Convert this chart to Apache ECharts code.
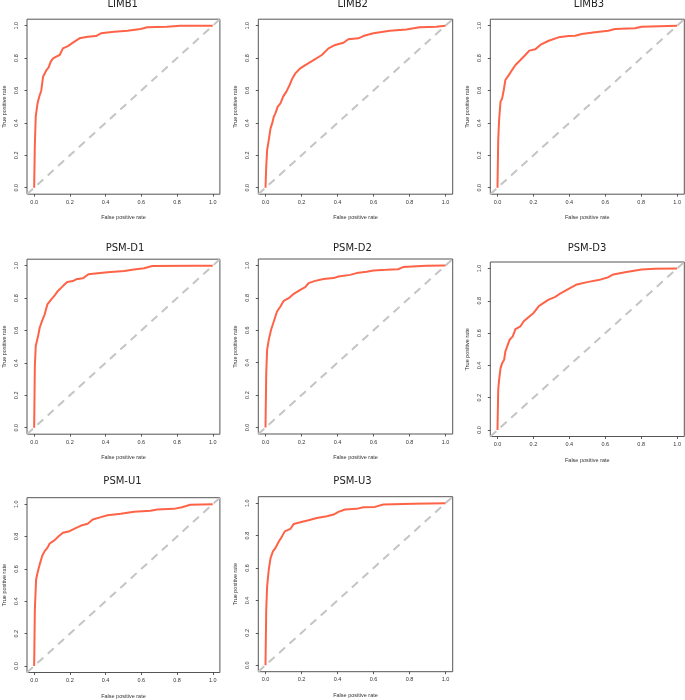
<!DOCTYPE html>
<html>
<head>
<meta charset="utf-8">
<style>html,body{margin:0;padding:0;background:#fff}#c{width:685px;height:700px}</style>
<script src="https://cdn.jsdelivr.net/npm/echarts@6/dist/echarts.min.js"></script>
</head>
<body>
<div id="c"></div>
<script>
// ---- data ----
const panelNames = ["LIMB1", "LIMB2", "LIMB3", "PSM-D1", "PSM-D2", "PSM-D3", "PSM-U1", "PSM-U3"];
const tickValues = [0, 0.2, 0.4, 0.6, 0.8, 1.0];
const tickLabels = ["0.0", "0.2", "0.4", "0.6", "0.8", "1.0"];
const xName = "False positive rate";
const yName = "True positive rate";
const diagonal = [[-0.04, -0.04], [1.04, 1.04]];

const limb1 = [[0,0],[0.004,0.27],[0.009,0.44],[0.019,0.52],[0.028,0.56],[0.04,0.60],[0.05,0.685],[0.069,0.726],[0.081,0.743],[0.093,0.778],[0.106,0.798],[0.124,0.809],[0.143,0.819],[0.161,0.86],[0.189,0.874],[0.217,0.895],[0.254,0.922],[0.3,0.932],[0.346,0.936],[0.374,0.953],[0.448,0.963],[0.522,0.969],[0.596,0.979],[0.633,0.99],[0.744,0.994],[0.819,1.0],[1,1]];
const limb2 = [[0,0],[0.004,0.13],[0.009,0.232],[0.018,0.294],[0.028,0.366],[0.037,0.397],[0.046,0.438],[0.055,0.459],[0.068,0.5],[0.083,0.52],[0.098,0.562],[0.116,0.593],[0.134,0.634],[0.147,0.669],[0.166,0.706],[0.193,0.737],[0.221,0.757],[0.267,0.788],[0.313,0.819],[0.35,0.86],[0.387,0.881],[0.433,0.895],[0.46,0.916],[0.516,0.922],[0.543,0.936],[0.599,0.953],[0.691,0.969],[0.783,0.977],[0.856,0.99],[0.948,0.994],[1,1]];
const limb3 = [[0,0],[0.004,0.294],[0.009,0.418],[0.017,0.531],[0.026,0.551],[0.035,0.603],[0.044,0.665],[0.063,0.695],[0.081,0.726],[0.1,0.757],[0.128,0.788],[0.155,0.819],[0.177,0.846],[0.211,0.854],[0.238,0.881],[0.285,0.907],[0.34,0.928],[0.396,0.936],[0.433,0.938],[0.469,0.949],[0.543,0.959],[0.617,0.969],[0.654,0.979],[0.765,0.984],[0.802,0.994],[1,1]];
const psmD1 = [[0,0],[0.004,0.381],[0.009,0.504],[0.022,0.566],[0.031,0.617],[0.044,0.658],[0.059,0.7],[0.074,0.761],[0.096,0.792],[0.115,0.817],[0.133,0.844],[0.161,0.874],[0.185,0.899],[0.217,0.905],[0.235,0.916],[0.272,0.922],[0.304,0.947],[0.356,0.953],[0.411,0.959],[0.504,0.967],[0.559,0.977],[0.615,0.984],[0.661,0.998],[0.893,1.0],[1,1]];
const psmD2 = [[0,0],[0.004,0.335],[0.009,0.479],[0.018,0.541],[0.031,0.603],[0.046,0.654],[0.064,0.716],[0.083,0.747],[0.101,0.782],[0.129,0.798],[0.157,0.825],[0.193,0.85],[0.221,0.866],[0.239,0.891],[0.276,0.905],[0.322,0.916],[0.378,0.922],[0.405,0.932],[0.47,0.942],[0.506,0.953],[0.562,0.961],[0.599,0.969],[0.672,0.973],[0.737,0.977],[0.764,0.99],[0.893,0.998],[1,1]];
const psmD3 = [[0,0],[0.004,0.248],[0.009,0.311],[0.017,0.383],[0.026,0.414],[0.037,0.435],[0.044,0.487],[0.054,0.518],[0.068,0.559],[0.085,0.58],[0.1,0.625],[0.128,0.642],[0.146,0.673],[0.174,0.7],[0.201,0.725],[0.229,0.766],[0.257,0.787],[0.285,0.807],[0.322,0.824],[0.349,0.845],[0.396,0.874],[0.442,0.901],[0.506,0.917],[0.562,0.928],[0.617,0.946],[0.645,0.963],[0.71,0.977],[0.802,0.994],[0.876,0.998],[1,1]];
const psmU1 = [[0,0],[0.004,0.35],[0.011,0.535],[0.019,0.576],[0.031,0.628],[0.046,0.683],[0.059,0.71],[0.074,0.73],[0.087,0.757],[0.115,0.778],[0.137,0.802],[0.161,0.823],[0.198,0.833],[0.235,0.854],[0.263,0.868],[0.3,0.879],[0.328,0.905],[0.374,0.92],[0.411,0.932],[0.485,0.941],[0.559,0.953],[0.652,0.959],[0.689,0.967],[0.781,0.971],[0.828,0.981],[0.874,0.996],[1,1]];
const psmU3 = [[0,0],[0.004,0.341],[0.009,0.486],[0.018,0.589],[0.028,0.661],[0.041,0.702],[0.055,0.723],[0.074,0.764],[0.092,0.795],[0.107,0.826],[0.138,0.841],[0.157,0.872],[0.193,0.882],[0.239,0.895],[0.285,0.909],[0.341,0.919],[0.378,0.93],[0.405,0.946],[0.442,0.961],[0.506,0.965],[0.543,0.975],[0.608,0.977],[0.654,0.992],[0.82,0.996],[1,1]];
const curves = [limb1, limb2, limb3, psmD1, psmD2, psmD3, psmU1, psmU3];

// ---- layout (pixels) ----
const boxes = [
  {l:25.5, t:19.2, w:194.4, h:175, tx:122.7, ty:5.5},
  {l:258.3, t:19.2, w:194.4, h:175, tx:352.7, ty:5.5},
  {l:490.3, t:19.2, w:194, h:175, tx:589, ty:5.5},
  {l:25.5, t:259.2, w:194.4, h:175, tx:125, ty:249},
  {l:258.3, t:259, w:194.4, h:175, tx:352.4, ty:249},
  {l:490.3, t:262, w:194, h:174.5, tx:587, ty:249},
  {l:25.5, t:497.7, w:194.4, h:175, tx:122.5, ty:482.7},
  {l:258.3, t:496.7, w:194.4, h:175, tx:352.5, ty:482.7}
];

const labelFont = {fontFamily: "Liberation Sans, Arial, sans-serif", fontSize: 5.5, color: "#333"};
const option = {animation:false, title:[], grid:[], xAxis:[], yAxis:[], series:[]};
const fmt = v => tickLabels[tickValues.findIndex(t => Math.abs(t - v) < 1e-6)] || '';

panelNames.forEach((name, i) => {
  const b = boxes[i];
  option.title.push({text:name, left:b.tx, top:b.ty - 6, textAlign:'center', padding:0,
    textStyle:{fontFamily:"DejaVu Sans, Verdana, sans-serif", fontSize:10, fontWeight:'normal', color:'#222'}});
  option.grid.push({left:b.l, top:b.t, width:b.w, height:b.h, show:true, borderColor:'#555', borderWidth:1, backgroundColor:'transparent'});
  const common = {
    type:'value', gridIndex:i, min:-0.04, max:1.04,
    splitLine:{show:false},
    axisLine:{show:false, onZero:false},
    axisTick:{show:true, inside:false, length:2.5, customValues:tickValues, lineStyle:{color:'#333', width:0.8}},
    nameLocation:'middle',
    nameTextStyle:labelFont
  };
  option.xAxis.push(Object.assign({}, common, {
    position:'bottom',
    name:xName, nameGap:20.5,
    axisLabel:Object.assign({show:true, margin:5, customValues:tickValues, formatter:fmt}, labelFont)
  }));
  option.yAxis.push(Object.assign({}, common, {
    position:'left',
    name:yName, nameGap:20,
    axisLabel:Object.assign({show:true, margin:7.5, rotate:90, customValues:tickValues, formatter:fmt}, labelFont)
  }));
  option.series.push({type:'line', xAxisIndex:i, yAxisIndex:i, data:diagonal, showSymbol:false, silent:true,
    lineStyle:{color:'#c4c4c4', width:2, type:[8,6]}, z:1});
  option.series.push({type:'line', xAxisIndex:i, yAxisIndex:i, data:curves[i], showSymbol:false, silent:true,
    lineStyle:{color:'#ff6347', width:2}, z:2});
});

const chart = echarts.init(document.getElementById('c'), null, {renderer:'canvas'});
chart.setOption(option);
</script>
</body>
</html>
